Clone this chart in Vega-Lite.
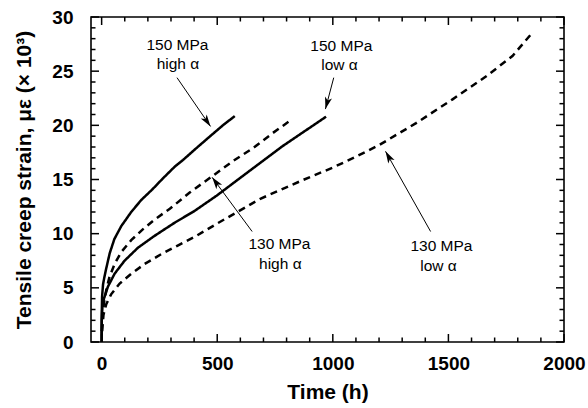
{
  "$schema": "https://vega.github.io/schema/vega-lite/v6.json",
  "width": 473,
  "height": 325,
  "autosize": {"type": "none"},
  "padding": {"left": 91, "top": 17, "right": 24, "bottom": 66},
  "background": "white",
  "config": {
    "view": {"stroke": "black", "strokeWidth": 1.6},
    "font": "Liberation Sans",
    "axis": {
      "domain": false,
      "grid": false,
      "ticks": false,
      "labelColor": "black",
      "labelFont": "Liberation Sans",
      "labelFontSize": 19,
      "labelFontWeight": "bold",
      "labelOverlap": false,
      "labelFlush": false,
      "labelBound": false,
      "titleColor": "black",
      "titleFont": "Liberation Sans",
      "titleFontSize": 21,
      "titleFontWeight": "bold"
    }
  },
  "datasets": {
    "curves": [
      {"series": "150 MPa high α", "t": 0, "v": 0},
      {"series": "150 MPa high α", "t": 0.5, "v": 2.5},
      {"series": "150 MPa high α", "t": 2, "v": 4.2},
      {"series": "150 MPa high α", "t": 6, "v": 5.3},
      {"series": "150 MPa high α", "t": 12, "v": 6.0},
      {"series": "150 MPa high α", "t": 20, "v": 6.8},
      {"series": "150 MPa high α", "t": 35, "v": 8.2},
      {"series": "150 MPa high α", "t": 55, "v": 9.5},
      {"series": "150 MPa high α", "t": 85, "v": 10.7},
      {"series": "150 MPa high α", "t": 128, "v": 12.0},
      {"series": "150 MPa high α", "t": 171, "v": 13.1},
      {"series": "150 MPa high α", "t": 220, "v": 14.1},
      {"series": "150 MPa high α", "t": 265, "v": 15.1},
      {"series": "150 MPa high α", "t": 317, "v": 16.2},
      {"series": "150 MPa high α", "t": 352, "v": 16.8},
      {"series": "150 MPa high α", "t": 410, "v": 17.9},
      {"series": "150 MPa high α", "t": 475, "v": 19.1},
      {"series": "150 MPa high α", "t": 530, "v": 20.1},
      {"series": "150 MPa high α", "t": 576, "v": 20.85},
      {"series": "130 MPa high α", "t": 1, "v": 1.0},
      {"series": "130 MPa high α", "t": 4, "v": 2.4},
      {"series": "130 MPa high α", "t": 10, "v": 3.6},
      {"series": "130 MPa high α", "t": 20, "v": 4.8},
      {"series": "130 MPa high α", "t": 34, "v": 6.0},
      {"series": "130 MPa high α", "t": 56, "v": 7.2},
      {"series": "130 MPa high α", "t": 85, "v": 8.3},
      {"series": "130 MPa high α", "t": 128, "v": 9.4},
      {"series": "130 MPa high α", "t": 178, "v": 10.4},
      {"series": "130 MPa high α", "t": 229, "v": 11.3},
      {"series": "130 MPa high α", "t": 295, "v": 12.3},
      {"series": "130 MPa high α", "t": 381, "v": 13.8},
      {"series": "130 MPa high α", "t": 475, "v": 15.25},
      {"series": "130 MPa high α", "t": 568, "v": 16.7},
      {"series": "130 MPa high α", "t": 655, "v": 17.9},
      {"series": "130 MPa high α", "t": 741, "v": 19.3},
      {"series": "130 MPa high α", "t": 813, "v": 20.4},
      {"series": "150 MPa low α", "t": 0, "v": 0},
      {"series": "150 MPa low α", "t": 0.5, "v": 2.0},
      {"series": "150 MPa low α", "t": 3, "v": 3.2},
      {"series": "150 MPa low α", "t": 10, "v": 4.0},
      {"series": "150 MPa low α", "t": 27, "v": 5.1},
      {"series": "150 MPa low α", "t": 56, "v": 6.3},
      {"series": "150 MPa low α", "t": 99, "v": 7.5},
      {"series": "150 MPa low α", "t": 157, "v": 8.7},
      {"series": "150 MPa low α", "t": 229, "v": 9.8},
      {"series": "150 MPa low α", "t": 315, "v": 11.0},
      {"series": "150 MPa low α", "t": 402, "v": 12.1},
      {"series": "150 MPa low α", "t": 497, "v": 13.5},
      {"series": "150 MPa low α", "t": 640, "v": 15.8},
      {"series": "150 MPa low α", "t": 784, "v": 18.1},
      {"series": "150 MPa low α", "t": 971, "v": 20.8},
      {"series": "130 MPa low α", "t": 2, "v": 1.0},
      {"series": "130 MPa low α", "t": 8, "v": 2.5},
      {"series": "130 MPa low α", "t": 20, "v": 3.5},
      {"series": "130 MPa low α", "t": 41, "v": 4.4},
      {"series": "130 MPa low α", "t": 78, "v": 5.4},
      {"series": "130 MPa low α", "t": 128, "v": 6.3},
      {"series": "130 MPa low α", "t": 186, "v": 7.2},
      {"series": "130 MPa low α", "t": 257, "v": 8.1},
      {"series": "130 MPa low α", "t": 329, "v": 8.9},
      {"series": "130 MPa low α", "t": 402, "v": 9.7},
      {"series": "130 MPa low α", "t": 497, "v": 10.9},
      {"series": "130 MPa low α", "t": 684, "v": 13.2},
      {"series": "130 MPa low α", "t": 865, "v": 14.9},
      {"series": "130 MPa low α", "t": 1000, "v": 16.1},
      {"series": "130 MPa low α", "t": 1100, "v": 17.1},
      {"series": "130 MPa low α", "t": 1202, "v": 18.2},
      {"series": "130 MPa low α", "t": 1360, "v": 20.2},
      {"series": "130 MPa low α", "t": 1518, "v": 22.4},
      {"series": "130 MPa low α", "t": 1662, "v": 24.5},
      {"series": "130 MPa low α", "t": 1777, "v": 26.4},
      {"series": "130 MPa low α", "t": 1857, "v": 28.4}
    ],
    "labels": [
      {"text": "150 MPa", "t": 328, "v": 27.0},
      {"text": "high α", "t": 330, "v": 25.2},
      {"text": "150 MPa", "t": 1037, "v": 26.85},
      {"text": "low α", "t": 1029, "v": 25.1},
      {"text": "130 MPa", "t": 769, "v": 8.55},
      {"text": "high α", "t": 773, "v": 6.7},
      {"text": "130 MPa", "t": 1470, "v": 8.4},
      {"text": "low α", "t": 1457, "v": 6.55}
    ],
    "arrows": [
      {"t0": 326, "v0": 24.4, "t": 471, "v": 19.9},
      {"t0": 1004, "v0": 24.4, "t": 968, "v": 21.5},
      {"t0": 651, "v0": 10.2, "t": 478, "v": 15.2},
      {"t0": 1423, "v0": 10.2, "t": 1228, "v": 17.6}
    ],
    "xticks": [
      {"t": 0, "kind": "major"}, {"t": 100, "kind": "minor"}, {"t": 200, "kind": "minor"}, {"t": 300, "kind": "minor"}, {"t": 400, "kind": "minor"},
      {"t": 500, "kind": "major"}, {"t": 600, "kind": "minor"}, {"t": 700, "kind": "minor"}, {"t": 800, "kind": "minor"}, {"t": 900, "kind": "minor"},
      {"t": 1000, "kind": "major"}, {"t": 1100, "kind": "minor"}, {"t": 1200, "kind": "minor"}, {"t": 1300, "kind": "minor"}, {"t": 1400, "kind": "minor"},
      {"t": 1500, "kind": "major"}, {"t": 1600, "kind": "minor"}, {"t": 1700, "kind": "minor"}, {"t": 1800, "kind": "minor"}, {"t": 1900, "kind": "minor"},
      {"t": 2000, "kind": "major"}
    ],
    "yticks": [
      {"v": 0, "kind": "major"}, {"v": 1, "kind": "minor"}, {"v": 2, "kind": "minor"}, {"v": 3, "kind": "minor"}, {"v": 4, "kind": "minor"},
      {"v": 5, "kind": "major"}, {"v": 6, "kind": "minor"}, {"v": 7, "kind": "minor"}, {"v": 8, "kind": "minor"}, {"v": 9, "kind": "minor"},
      {"v": 10, "kind": "major"}, {"v": 11, "kind": "minor"}, {"v": 12, "kind": "minor"}, {"v": 13, "kind": "minor"}, {"v": 14, "kind": "minor"},
      {"v": 15, "kind": "major"}, {"v": 16, "kind": "minor"}, {"v": 17, "kind": "minor"}, {"v": 18, "kind": "minor"}, {"v": 19, "kind": "minor"},
      {"v": 20, "kind": "major"}, {"v": 21, "kind": "minor"}, {"v": 22, "kind": "minor"}, {"v": 23, "kind": "minor"}, {"v": 24, "kind": "minor"},
      {"v": 25, "kind": "major"}, {"v": 26, "kind": "minor"}, {"v": 27, "kind": "minor"}, {"v": 28, "kind": "minor"}, {"v": 29, "kind": "minor"},
      {"v": 30, "kind": "major"}
    ]
  },
  "layer": [
    {
      "data": {"name": "curves"},
      "mark": {"type": "line", "color": "black", "strokeWidth": 2.5, "strokeCap": "butt"},
      "encoding": {
        "x": {"field": "t", "type": "quantitative", "scale": {"domain": [-46, 2000], "nice": false, "zero": false},
          "axis": {"orient": "bottom", "values": [0, 500, 1000, 1500, 2000], "format": "d", "labelPadding": 12, "title": "Time (h)", "titlePadding": 8}},
        "y": {"field": "v", "type": "quantitative", "scale": {"domain": [0, 30], "nice": false, "zero": false},
          "axis": {"orient": "left", "values": [0, 5, 10, 15, 20, 25, 30], "format": "d", "labelPadding": 18, "title": "Tensile creep strain, με (× 10³)", "titlePadding": 17}},
        "strokeDash": {
          "field": "series", "type": "nominal",
          "scale": {
            "domain": ["150 MPa high α", "130 MPa high α", "150 MPa low α", "130 MPa low α"],
            "range": [[1, 0], [7, 5], [1, 0], [7, 5]]
          },
          "legend": null
        }
      }
    },
    {
      "data": {"name": "xticks"},
      "transform": [{"filter": "datum.kind === 'major'"}],
      "mark": {"type": "rule", "color": "black", "strokeWidth": 1.5, "y2Offset": -8},
      "encoding": {
        "x": {"field": "t", "type": "quantitative", "scale": {"domain": [-46, 2000], "nice": false, "zero": false},
          "axis": {"orient": "bottom", "values": [0, 500, 1000, 1500, 2000], "format": "d", "labelPadding": 12, "title": "Time (h)", "titlePadding": 8}},
        "y": {"datum": 0, "type": "quantitative", "scale": {"domain": [0, 30], "nice": false, "zero": false},
          "axis": {"orient": "left", "values": [0, 5, 10, 15, 20, 25, 30], "format": "d", "labelPadding": 18, "title": "Tensile creep strain, με (× 10³)", "titlePadding": 17}},
        "y2": {"datum": 0}
      }
    },
    {
      "data": {"name": "xticks"},
      "transform": [{"filter": "datum.kind === 'minor'"}],
      "mark": {"type": "rule", "color": "black", "strokeWidth": 1.5, "y2Offset": -4.5},
      "encoding": {
        "x": {"field": "t", "type": "quantitative", "scale": {"domain": [-46, 2000], "nice": false, "zero": false},
          "axis": {"orient": "bottom", "values": [0, 500, 1000, 1500, 2000], "format": "d", "labelPadding": 12, "title": "Time (h)", "titlePadding": 8}},
        "y": {"datum": 0, "type": "quantitative", "scale": {"domain": [0, 30], "nice": false, "zero": false},
          "axis": {"orient": "left", "values": [0, 5, 10, 15, 20, 25, 30], "format": "d", "labelPadding": 18, "title": "Tensile creep strain, με (× 10³)", "titlePadding": 17}},
        "y2": {"datum": 0}
      }
    },
    {
      "data": {"name": "xticks"},
      "transform": [{"filter": "datum.kind === 'major'"}],
      "mark": {"type": "rule", "color": "black", "strokeWidth": 1.5, "y2Offset": 8},
      "encoding": {
        "x": {"field": "t", "type": "quantitative", "scale": {"domain": [-46, 2000], "nice": false, "zero": false},
          "axis": {"orient": "bottom", "values": [0, 500, 1000, 1500, 2000], "format": "d", "labelPadding": 12, "title": "Time (h)", "titlePadding": 8}},
        "y": {"datum": 30, "type": "quantitative", "scale": {"domain": [0, 30], "nice": false, "zero": false},
          "axis": {"orient": "left", "values": [0, 5, 10, 15, 20, 25, 30], "format": "d", "labelPadding": 18, "title": "Tensile creep strain, με (× 10³)", "titlePadding": 17}},
        "y2": {"datum": 30}
      }
    },
    {
      "data": {"name": "xticks"},
      "transform": [{"filter": "datum.kind === 'minor'"}],
      "mark": {"type": "rule", "color": "black", "strokeWidth": 1.5, "y2Offset": 4.5},
      "encoding": {
        "x": {"field": "t", "type": "quantitative", "scale": {"domain": [-46, 2000], "nice": false, "zero": false},
          "axis": {"orient": "bottom", "values": [0, 500, 1000, 1500, 2000], "format": "d", "labelPadding": 12, "title": "Time (h)", "titlePadding": 8}},
        "y": {"datum": 30, "type": "quantitative", "scale": {"domain": [0, 30], "nice": false, "zero": false},
          "axis": {"orient": "left", "values": [0, 5, 10, 15, 20, 25, 30], "format": "d", "labelPadding": 18, "title": "Tensile creep strain, με (× 10³)", "titlePadding": 17}},
        "y2": {"datum": 30}
      }
    },
    {
      "data": {"name": "yticks"},
      "transform": [{"filter": "datum.kind === 'major'"}],
      "mark": {"type": "rule", "color": "black", "strokeWidth": 1.5, "x2Offset": 8},
      "encoding": {
        "y": {"field": "v", "type": "quantitative", "scale": {"domain": [0, 30], "nice": false, "zero": false},
          "axis": {"orient": "left", "values": [0, 5, 10, 15, 20, 25, 30], "format": "d", "labelPadding": 18, "title": "Tensile creep strain, με (× 10³)", "titlePadding": 17}},
        "x": {"datum": -46, "type": "quantitative", "scale": {"domain": [-46, 2000], "nice": false, "zero": false},
          "axis": {"orient": "bottom", "values": [0, 500, 1000, 1500, 2000], "format": "d", "labelPadding": 12, "title": "Time (h)", "titlePadding": 8}},
        "x2": {"datum": -46}
      }
    },
    {
      "data": {"name": "yticks"},
      "transform": [{"filter": "datum.kind === 'minor'"}],
      "mark": {"type": "rule", "color": "black", "strokeWidth": 1.5, "x2Offset": 4.5},
      "encoding": {
        "y": {"field": "v", "type": "quantitative", "scale": {"domain": [0, 30], "nice": false, "zero": false},
          "axis": {"orient": "left", "values": [0, 5, 10, 15, 20, 25, 30], "format": "d", "labelPadding": 18, "title": "Tensile creep strain, με (× 10³)", "titlePadding": 17}},
        "x": {"datum": -46, "type": "quantitative", "scale": {"domain": [-46, 2000], "nice": false, "zero": false},
          "axis": {"orient": "bottom", "values": [0, 500, 1000, 1500, 2000], "format": "d", "labelPadding": 12, "title": "Time (h)", "titlePadding": 8}},
        "x2": {"datum": -46}
      }
    },
    {
      "data": {"name": "yticks"},
      "transform": [{"filter": "datum.kind === 'major'"}],
      "mark": {"type": "rule", "color": "black", "strokeWidth": 1.5, "x2Offset": -8},
      "encoding": {
        "y": {"field": "v", "type": "quantitative", "scale": {"domain": [0, 30], "nice": false, "zero": false},
          "axis": {"orient": "left", "values": [0, 5, 10, 15, 20, 25, 30], "format": "d", "labelPadding": 18, "title": "Tensile creep strain, με (× 10³)", "titlePadding": 17}},
        "x": {"datum": 2000, "type": "quantitative", "scale": {"domain": [-46, 2000], "nice": false, "zero": false},
          "axis": {"orient": "bottom", "values": [0, 500, 1000, 1500, 2000], "format": "d", "labelPadding": 12, "title": "Time (h)", "titlePadding": 8}},
        "x2": {"datum": 2000}
      }
    },
    {
      "data": {"name": "yticks"},
      "transform": [{"filter": "datum.kind === 'minor'"}],
      "mark": {"type": "rule", "color": "black", "strokeWidth": 1.5, "x2Offset": -4.5},
      "encoding": {
        "y": {"field": "v", "type": "quantitative", "scale": {"domain": [0, 30], "nice": false, "zero": false},
          "axis": {"orient": "left", "values": [0, 5, 10, 15, 20, 25, 30], "format": "d", "labelPadding": 18, "title": "Tensile creep strain, με (× 10³)", "titlePadding": 17}},
        "x": {"datum": 2000, "type": "quantitative", "scale": {"domain": [-46, 2000], "nice": false, "zero": false},
          "axis": {"orient": "bottom", "values": [0, 500, 1000, 1500, 2000], "format": "d", "labelPadding": 12, "title": "Time (h)", "titlePadding": 8}},
        "x2": {"datum": 2000}
      }
    },
    {
      "data": {"name": "arrows"},
      "mark": {"type": "rule", "color": "black", "strokeWidth": 1},
      "encoding": {
        "x": {"field": "t0", "type": "quantitative", "scale": {"domain": [-46, 2000], "nice": false, "zero": false},
          "axis": {"orient": "bottom", "values": [0, 500, 1000, 1500, 2000], "format": "d", "labelPadding": 12, "title": "Time (h)", "titlePadding": 8}},
        "y": {"field": "v0", "type": "quantitative", "scale": {"domain": [0, 30], "nice": false, "zero": false},
          "axis": {"orient": "left", "values": [0, 5, 10, 15, 20, 25, 30], "format": "d", "labelPadding": 18, "title": "Tensile creep strain, με (× 10³)", "titlePadding": 17}},
        "x2": {"field": "t"},
        "y2": {"field": "v"}
      }
    },
    {
      "data": {"name": "arrows"},
      "mark": {
        "type": "point",
        "shape": "M0,0L-0.6,2L0,1.5L0.6,2Z",
        "filled": true,
        "color": "black",
        "opacity": 1,
        "size": 144,
        "angle": {"expr": "atan2(scale('x', datum.t) - scale('x', datum.t0), scale('y', datum.v0) - scale('y', datum.v)) * 180 / PI"}
      },
      "encoding": {
        "x": {"field": "t", "type": "quantitative", "scale": {"domain": [-46, 2000], "nice": false, "zero": false},
          "axis": {"orient": "bottom", "values": [0, 500, 1000, 1500, 2000], "format": "d", "labelPadding": 12, "title": "Time (h)", "titlePadding": 8}},
        "y": {"field": "v", "type": "quantitative", "scale": {"domain": [0, 30], "nice": false, "zero": false},
          "axis": {"orient": "left", "values": [0, 5, 10, 15, 20, 25, 30], "format": "d", "labelPadding": 18, "title": "Tensile creep strain, με (× 10³)", "titlePadding": 17}}
      }
    },
    {
      "data": {"name": "labels"},
      "mark": {"type": "text", "font": "Liberation Sans", "fontSize": 15.5, "align": "center", "baseline": "alphabetic", "color": "black"},
      "encoding": {
        "x": {"field": "t", "type": "quantitative", "scale": {"domain": [-46, 2000], "nice": false, "zero": false},
          "axis": {"orient": "bottom", "values": [0, 500, 1000, 1500, 2000], "format": "d", "labelPadding": 12, "title": "Time (h)", "titlePadding": 8}},
        "y": {"field": "v", "type": "quantitative", "scale": {"domain": [0, 30], "nice": false, "zero": false},
          "axis": {"orient": "left", "values": [0, 5, 10, 15, 20, 25, 30], "format": "d", "labelPadding": 18, "title": "Tensile creep strain, με (× 10³)", "titlePadding": 17}},
        "text": {"field": "text"}
      }
    }
  ]
}
